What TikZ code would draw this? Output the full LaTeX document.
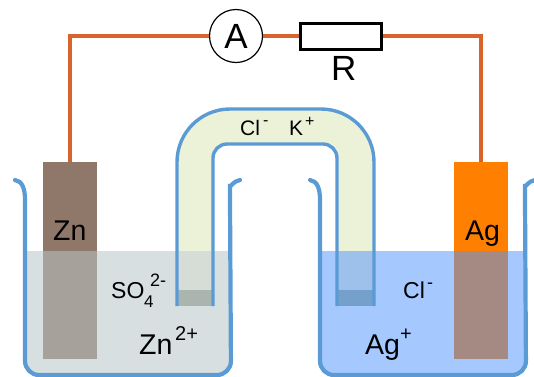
\documentclass[tikz,border=0pt]{standalone}
\usepackage{fontspec}
\setmainfont{Liberation Sans}
\usetikzlibrary{positioning}
\definecolor{wirecol}{HTML}{D9642B}
\definecolor{glass}{HTML}{5B9BD5}
\definecolor{gel}{HTML}{ECF2D8}
\definecolor{liquidzn}{HTML}{D8DFE1}
\definecolor{liquidag}{HTML}{A5C8FE}
\definecolor{zndry}{HTML}{8F7869}
\definecolor{znwet}{HTML}{A6A19B}
\definecolor{agdry}{HTML}{FF7F00}
\definecolor{agwet}{HTML}{A58A83}
\definecolor{gelzn}{HTML}{D6DDD6}
\definecolor{gelag}{HTML}{9DC1EA}
\definecolor{plugzn}{HTML}{A9B5AE}
\definecolor{plugag}{HTML}{74A0CB}
\newcommand{\sized}[2]{\fontsize{#1}{#1}\selectfont #2}
\tikzset{
  wire/.style={draw=wirecol, line width=3.6pt},
  electrode/.style={rectangle, minimum width=54pt, inner sep=0pt, outer sep=0pt},
  ionlabel/.style={inner sep=0pt, text=black, anchor=base west},
}
\begin{document}
\begin{tikzpicture}[x=1pt,y=-1pt]
        \useasboundingbox (0,0) rectangle (534,376);
        % liquid in both beakers
        \foreach \bx/\liq in {0/liquidzn, 295/liquidag}
            \fill[\liq] (\bx+26,251) [rounded corners=14pt] -- (\bx+26,375) -- (\bx+230,375) [sharp corners] -- (\bx+229,251) -- cycle;
        % salt bridge
        \fill[gel] (177,251) -- (177,162) arc[start angle=180, end angle=90, radius=53pt] -- (321,109) arc[start angle=90, end angle=0, radius=53pt] -- (374,251) -- (337,251) -- (337,158) arc[start angle=0, end angle=90, radius=14pt] -- (227,144) arc[start angle=90, end angle=180, radius=14pt] -- (213,251) -- cycle;
        \fill[gelzn] (178,251) rectangle (212,290);
        \fill[plugzn] (178,290) rectangle (212,306);
        \fill[gelag] (338,251) rectangle (373,290);
        \fill[plugag] (338,290) rectangle (373,306);
        \draw[glass, line width=3.4pt, rounded corners=53pt] (177,306) -- (177,109) -- (374,109) -- (374,306);
        \draw[glass, line width=3.4pt, rounded corners=14pt] (213,306) -- (213,144) -- (337,144) -- (337,306);
        % electrodes
        \node[electrode, fill=zndry, minimum height=89pt] (zntop) at (70,206.5) {};
        \node[electrode, fill=znwet, minimum height=108pt, below=0pt of zntop] (znlow) {};
        \node[electrode, fill=agdry, minimum height=89pt] (agtop) at (481,206.5) {};
        \node[electrode, fill=agwet, minimum height=108pt, below=0pt of agtop] (aglow) {};
        % beakers
        \foreach \bx in {0,295}
            \draw[glass, line width=4.2pt, line cap=round] (\bx+15,180) .. controls (\bx+22,181) and (\bx+25,188) .. (\bx+25,200) [rounded corners=14pt] -- (\bx+25,375) -- (\bx+231,375) -- (\bx+230,200) [sharp corners] .. controls (\bx+230,188) and (\bx+233,181) .. (\bx+240,180);
        % circuit
        \node[circle, draw=black, line width=1.2pt, fill=white, minimum size=53pt, inner sep=0pt, font=\fontsize{35}{35}\selectfont] (ammeter) at (236,36) {A};
        \node[rectangle, draw=black, line width=3pt, fill=white, minimum width=81pt, minimum height=26pt, inner sep=0pt] (res) at (341,36) {};
        \draw[wire] (zntop.north) |- (ammeter.west);
        \draw[wire] (agtop.north) |- (res.east);
        \draw[wire] (ammeter.east) -- (res.west);
        % labels
        \node[ionlabel] (rlabel) at (331,80) {\sized{35}{R}};
        \node[ionlabel] (znlabel) at (53,240) {\sized{28.5}{Zn}};
        \node[ionlabel] (aglabel) at (465,240) {\sized{28.5}{Ag}};
        \node[ionlabel] (znion) at (139,354) {\sized{28.5}{Zn}};
        \node[ionlabel] (znsup) at (175,340) {\sized{20}{2+}};
        \node[ionlabel] (agion) at (365,354) {\sized{28.5}{Ag}};
        \node[ionlabel] (agsup) at (400,340) {\sized{20}{+}};
        \node[ionlabel] (clright) at (403,298) {\sized{23}{Cl}};
        \node[ionlabel] (clrsup) at (427,288) {\sized{18}{-}};
        \node[ionlabel] (clbridge) at (240,135) {\sized{21}{Cl}};
        \node[ionlabel] (clbsup) at (263,125) {\sized{16}{-}};
        \node[ionlabel] (kbridge) at (289,135) {\sized{21}{K}};
        \node[ionlabel] (kbsup) at (305,126) {\sized{16}{+}};
        \node[ionlabel] (so) at (111,298) {\sized{23}{SO}};
        \node[ionlabel] (sosub) at (144,307) {\sized{17}{4}};
        \node[ionlabel] (sosup) at (150,286) {\sized{18}{2-}};
\end{tikzpicture}
\end{document}
